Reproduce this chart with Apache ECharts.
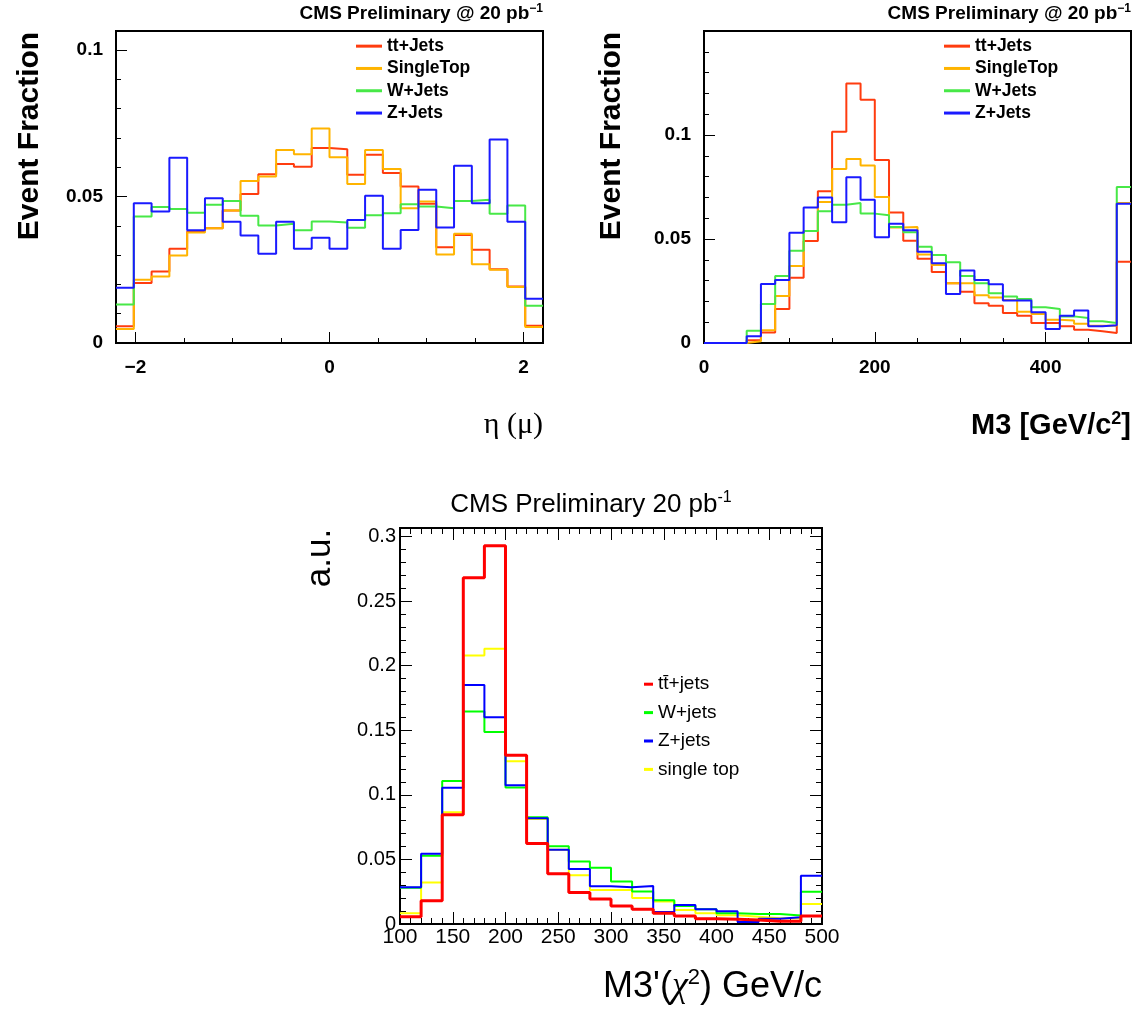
<!DOCTYPE html>
<html>
<head>
<meta charset="utf-8">
<script src="https://cdn.jsdelivr.net/npm/echarts@6/dist/echarts.min.js"></script>
<style>
  html, body { margin: 0; padding: 0; background: #fff; }
  #chart { width: 1139px; height: 1012px; }
</style>
</head>
<body>
<div id="chart"></div>
<script>
// ---- η(μ) distributions: 24 bins from -2.2 to 2.2 ----
const etaRange = [-2.2, 2.2];
const etaTT = [0.0057,0.0205,0.0244,0.0322,0.0381,0.0392,0.0452,0.0509,0.0576,0.0611,0.0602,0.0666,0.0661,0.0574,0.0643,0.0580,0.0534,0.0475,0.0327,0.0369,0.0318,0.0252,0.0193,0.0059];
const etaST = [0.0048,0.0216,0.0227,0.0299,0.0377,0.0392,0.0452,0.0553,0.0568,0.0659,0.0644,0.0732,0.0634,0.0543,0.0659,0.0594,0.0460,0.0483,0.0302,0.0373,0.0269,0.0250,0.0191,0.0055];
const etaW  = [0.0131,0.0432,0.0464,0.0457,0.0445,0.0472,0.0485,0.0434,0.0401,0.0407,0.0385,0.0415,0.0411,0.0393,0.0436,0.0443,0.0474,0.0466,0.0460,0.0485,0.0489,0.0441,0.0469,0.0127];
const etaZ  = [0.0189,0.0477,0.0449,0.0632,0.0385,0.0494,0.0414,0.0367,0.0305,0.0414,0.0322,0.0359,0.0322,0.0420,0.0503,0.0322,0.0386,0.0523,0.0394,0.0605,0.0477,0.0695,0.0414,0.0151];

// ---- M3 distributions: 30 bins from 0 to 500 GeV ----
const m3Range = [0, 500];
const m3TT = [0,0,0,0.0013,0.0051,0.0163,0.0314,0.0490,0.0730,0.1016,0.1247,0.1169,0.0880,0.0627,0.0491,0.0405,0.0341,0.0287,0.0246,0.0191,0.0179,0.0144,0.0131,0.0096,0.0096,0.0080,0.0064,0.0056,0.0048,0.0391];
const m3ST = [0,0,0,0.0008,0.0061,0.0226,0.0370,0.0539,0.0678,0.0837,0.0885,0.0853,0.0702,0.0555,0.0558,0.0426,0.0375,0.0287,0.0287,0.0230,0.0219,0.0207,0.0150,0.0140,0.0112,0.0108,0.0093,0.0083,0.0083,0.0673];
const m3W  = [0,0,0,0.0059,0.0188,0.0322,0.0443,0.0539,0.0633,0.0665,0.0673,0.0622,0.0614,0.0558,0.0533,0.0463,0.0423,0.0388,0.0322,0.0287,0.0239,0.0223,0.0211,0.0172,0.0163,0.0128,0.0120,0.0104,0.0096,0.0750];
const m3Z  = [0,0,0,0.0032,0.0284,0.0303,0.0530,0.0651,0.0699,0.0581,0.0797,0.0689,0.0509,0.0573,0.0542,0.0439,0.0383,0.0236,0.0348,0.0303,0.0282,0.0204,0.0204,0.0148,0.0067,0.0131,0.0156,0.0080,0.0085,0.0670];

// ---- M3'(χ²) distributions: 20 bins from 100 to 500 GeV ----
const chiRange = [100, 500];
const chiTT = [0.0057,0.0179,0.0845,0.2679,0.2927,0.1306,0.0624,0.0389,0.0244,0.0194,0.0140,0.0114,0.0083,0.0062,0.0041,0.0036,0.0031,0.0021,0.0021,0.0062];
const chiW  = [0.0280,0.0528,0.1106,0.1645,0.1487,0.1057,0.0826,0.0601,0.0484,0.0435,0.0329,0.0251,0.0184,0.0140,0.0114,0.0083,0.0078,0.0078,0.0065,0.0249];
const chiZ  = [0.0285,0.0544,0.1054,0.1850,0.1601,0.1073,0.0819,0.0575,0.0425,0.0293,0.0285,0.0295,0.0093,0.0148,0.0114,0.0098,0.0016,0.0041,0.0052,0.0373];
const chiST = [0.0083,0.0321,0.0865,0.2078,0.2130,0.1259,0.0813,0.0575,0.0378,0.0264,0.0264,0.0202,0.0174,0.0109,0.0083,0.0067,0.0057,0.0044,0.0044,0.0155];

// ---- series names ----
const topNames = ['tt+Jets', 'SingleTop', 'W+Jets', 'Z+Jets'];
const bottomNames = ['t\u0074\u0304+jets', 'W+jets', 'Z+jets', 'single top'];

// ---- tick positions and labels ----
const etaMajorTicks = [-2, 0, 2];
const etaMinorTicks = [-2, -1.5, -1, -0.5, 0, 0.5, 1, 1.5, 2];
const m3MajorTicks = [0, 200, 400];
const m3MinorTicks = [0, 50, 100, 150, 200, 250, 300, 350, 400, 450];
const fracMajorTicks = [0, 0.05, 0.1];
const etaFracMinorTicks = [0, 0.01, 0.02, 0.03, 0.04, 0.05, 0.06, 0.07, 0.08, 0.09, 0.1];
const m3FracMinorTicks = [0, 0.01, 0.02, 0.03, 0.04, 0.05, 0.06, 0.07, 0.08, 0.09, 0.1, 0.11, 0.12, 0.13, 0.14];
const chiMajorTicks = [100, 150, 200, 250, 300, 350, 400, 450, 500];
const chiMinorTicks = [100,110,120,130,140,150,160,170,180,190,200,210,220,230,240,250,260,270,280,290,300,310,320,330,340,350,360,370,380,390,400,410,420,430,440,450,460,470,480,490,500];
const auMajorTicks = [0, 0.05, 0.1, 0.15, 0.2, 0.25, 0.3];
const auMinorTicks = [0,0.01,0.02,0.03,0.04,0.05,0.06,0.07,0.08,0.09,0.1,0.11,0.12,0.13,0.14,0.15,0.16,0.17,0.18,0.19,0.2,0.21,0.22,0.23,0.24,0.25,0.26,0.27,0.28,0.29,0.3];

const FONT = "'Liberation Sans', Arial, Helvetica, sans-serif";
const SERIF = "'Liberation Serif', 'Times New Roman', serif";

// Turn bin contents into step points: each bin's left edge, plus the closing right edge.
function histPoints(values, range) {
  const n = values.length;
  const w = (range[1] - range[0]) / n;
  const pts = values.map((v, i) => [range[0] + i * w, v]);
  pts.push([range[1], values[n - 1]]);
  return pts;
}

function numLabel(v) {
  if (v === 0) return '0';
  if (v < 0) return '\u2212' + Math.abs(v);
  return String(+v.toFixed(3));
}

const xAxes = [], yAxes = [];
function add(list, cfg) { list.push(cfg); return list.length - 1; }

function baseAxis(g, range, position) {
  return {
    gridIndex: g, type: 'value', min: range[0], max: range[1], position: position,
    splitLine: { show: false },
    axisLine: { show: false, onZero: false },
    axisTick: { show: false },
    axisLabel: { show: false }
  };
}

function tickAxis(g, range, position, ticks, len, label) {
  const a = baseAxis(g, range, position);
  a.axisTick = { show: true, inside: true, length: len, customValues: ticks,
                 lineStyle: { color: '#000', width: 1 } };
  if (label) {
    a.axisLabel = Object.assign({ show: true, customValues: ticks, formatter: numLabel,
                                  color: '#000', fontFamily: FONT }, label);
  }
  return a;
}

// panel definitions
const panels = [
  { grid: { left: 116, top: 31, width: 427, height: 312 },
    x: etaRange, y: [0, 0.1065],
    xMajor: etaMajorTicks, xMinor: etaMinorTicks,
    yMajor: fracMajorTicks, yMinor: etaFracMinorTicks,
    majorLen: 11, minorLen: 5, mirror: false,
    xLabel: { fontSize: 19, fontWeight: 'bold', margin: 15 },
    yLabel: { fontSize: 19, fontWeight: 'bold', margin: 13 } },
  { grid: { left: 704, top: 31, width: 427, height: 312 },
    x: m3Range, y: [0, 0.15],
    xMajor: m3MajorTicks, xMinor: m3MinorTicks,
    yMajor: fracMajorTicks, yMinor: m3FracMinorTicks,
    majorLen: 11, minorLen: 5, mirror: false,
    xLabel: { fontSize: 19, fontWeight: 'bold', margin: 15 },
    yLabel: { fontSize: 19, fontWeight: 'bold', margin: 13 } },
  { grid: { left: 400, top: 528, width: 422, height: 396 },
    x: chiRange, y: [0, 0.3065],
    xMajor: chiMajorTicks, xMinor: chiMinorTicks,
    yMajor: auMajorTicks, yMinor: auMinorTicks,
    majorLen: 12, minorLen: 6, mirror: true,
    xLabel: { fontSize: 21, margin: 3 },
    yLabel: { fontSize: 20, margin: 4 } }
];

const grids = [];
const dataAxes = [];
panels.forEach((p, g) => {
  grids.push(Object.assign({ show: true, borderColor: '#000', borderWidth: 2,
                             backgroundColor: 'transparent', containLabel: false,
                             outerBoundsMode: 'none' }, p.grid));
  const xi = add(xAxes, baseAxis(g, p.x, 'bottom'));
  const yi = add(yAxes, baseAxis(g, p.y, 'left'));
  add(xAxes, tickAxis(g, p.x, 'bottom', p.xMinor, p.minorLen));
  add(xAxes, tickAxis(g, p.x, 'bottom', p.xMajor, p.majorLen, p.xLabel));
  add(yAxes, tickAxis(g, p.y, 'left', p.yMinor, p.minorLen));
  add(yAxes, tickAxis(g, p.y, 'left', p.yMajor, p.majorLen, p.yLabel));
  if (p.mirror) {
    add(xAxes, tickAxis(g, p.x, 'top', p.xMinor, p.minorLen));
    add(xAxes, tickAxis(g, p.x, 'top', p.xMajor, p.majorLen));
    add(yAxes, tickAxis(g, p.y, 'right', p.yMinor, p.minorLen));
    add(yAxes, tickAxis(g, p.y, 'right', p.yMajor, p.majorLen));
  }
  dataAxes.push([xi, yi]);
});

const topColors = ['#ff3c0f', '#ffb400', '#47e847', '#1a1aff'];

function hist(name, values, range, panel, color, width, z) {
  return {
    type: 'line', name: name, data: histPoints(values, range), step: 'end',
    xAxisIndex: dataAxes[panel][0], yAxisIndex: dataAxes[panel][1],
    symbol: 'none', color: color, lineStyle: { color: color, width: width },
    clip: true, silent: true, z: z, animation: false
  };
}

const series = [
  hist(topNames[0], etaTT, etaRange, 0, topColors[0], 2, 2),
  hist(topNames[1], etaST, etaRange, 0, topColors[1], 2, 3),
  hist(topNames[2], etaW,  etaRange, 0, topColors[2], 2, 4),
  hist(topNames[3], etaZ,  etaRange, 0, topColors[3], 2, 5),
  hist(topNames[0], m3TT, m3Range, 1, topColors[0], 2, 2),
  hist(topNames[1], m3ST, m3Range, 1, topColors[1], 2, 3),
  hist(topNames[2], m3W,  m3Range, 1, topColors[2], 2, 4),
  hist(topNames[3], m3Z,  m3Range, 1, topColors[3], 2, 5),
  hist(bottomNames[3], chiST, chiRange, 2, '#ffff00', 2, 2),
  hist(bottomNames[1], chiW,  chiRange, 2, '#00ff00', 2, 3),
  hist(bottomNames[2], chiZ,  chiRange, 2, '#0000ff', 2, 4),
  hist(bottomNames[0], chiTT, chiRange, 2, '#ff0000', 3, 5)
];

function legendAt(names, left, top, iconW, size, rowH, bold) {
  return {
    data: names, left: left, top: top, orient: 'vertical', padding: 0,
    icon: 'rect', itemWidth: iconW, itemHeight: 3, itemGap: 0, selectedMode: false,
    textStyle: { fontFamily: FONT, fontSize: size, fontWeight: bold ? 'bold' : 'normal',
                 lineHeight: rowH, color: '#000' }
  };
}

function text(x, y, t, style, rotation) {
  return {
    type: 'text', x: x, y: y, rotation: rotation || 0, silent: true,
    style: Object.assign({ text: t, fill: '#000', verticalAlign: 'middle' }, style)
  };
}

const supTop = {
  a: { fontFamily: FONT, fontWeight: 'bold', fontSize: 19, lineHeight: 22, fill: '#000' },
  s: { fontFamily: FONT, fontWeight: 'bold', fontSize: 12, lineHeight: 12, verticalAlign: 'top', fill: '#000' }
};

const graphic = [
  text(543, 14, '{a|CMS Preliminary @ 20 pb}{s|\u22121}', { align: 'right', rich: supTop }),
  text(1131, 14, '{a|CMS Preliminary @ 20 pb}{s|\u22121}', { align: 'right', rich: supTop }),
  text(30, 136, 'Event Fraction', { align: 'center', font: 'bold 30px ' + FONT }, Math.PI / 2),
  text(612, 136, 'Event Fraction', { align: 'center', font: 'bold 30px ' + FONT }, Math.PI / 2),
  text(543, 425, '\u03b7 (\u03bc)', { align: 'right', font: '30px ' + SERIF }),
  text(1131, 426, '{a|M3 [GeV/c}{s|2}{a|]}', { align: 'right', rich: {
    a: { fontFamily: FONT, fontWeight: 'bold', fontSize: 29, lineHeight: 32, fill: '#000' },
    s: { fontFamily: FONT, fontWeight: 'bold', fontSize: 18, lineHeight: 18, verticalAlign: 'top', fill: '#000' }
  } }),
  text(591, 505, '{a|CMS Preliminary 20 pb}{s|-1}', { align: 'center', rich: {
    a: { fontFamily: FONT, fontSize: 26, lineHeight: 30, fill: '#000' },
    s: { fontFamily: FONT, fontSize: 16, lineHeight: 16, verticalAlign: 'top', fill: '#000' }
  } }),
  text(320, 558, 'a.u.', { align: 'center', font: '35px ' + FONT }, Math.PI / 2),
  text(822, 987, "{a|M3'(}{g|\u03c7}{s|2}{a|) GeV/c}", { align: 'right', rich: {
    a: { fontFamily: FONT, fontSize: 36, lineHeight: 40, fill: '#000' },
    g: { fontFamily: SERIF, fontStyle: 'italic', fontSize: 36, lineHeight: 40, fill: '#000' },
    s: { fontFamily: FONT, fontSize: 22, lineHeight: 22, verticalAlign: 'top', fill: '#000' }
  } })
];

const chart = echarts.init(document.getElementById('chart'), null, { renderer: 'canvas' });
chart.setOption({
  animation: false,
  backgroundColor: '#fff',
  grid: grids,
  xAxis: xAxes,
  yAxis: yAxes,
  legend: [
    legendAt(topNames, 356, 35, 26, 17.5, 22.3, true),
    legendAt(topNames, 944, 35, 26, 17.5, 22.3, true),
    legendAt(bottomNames, 644, 670, 9, 19, 28.4, false)
  ],
  series: series,
  graphic: graphic
});
</script>
</body>
</html>
